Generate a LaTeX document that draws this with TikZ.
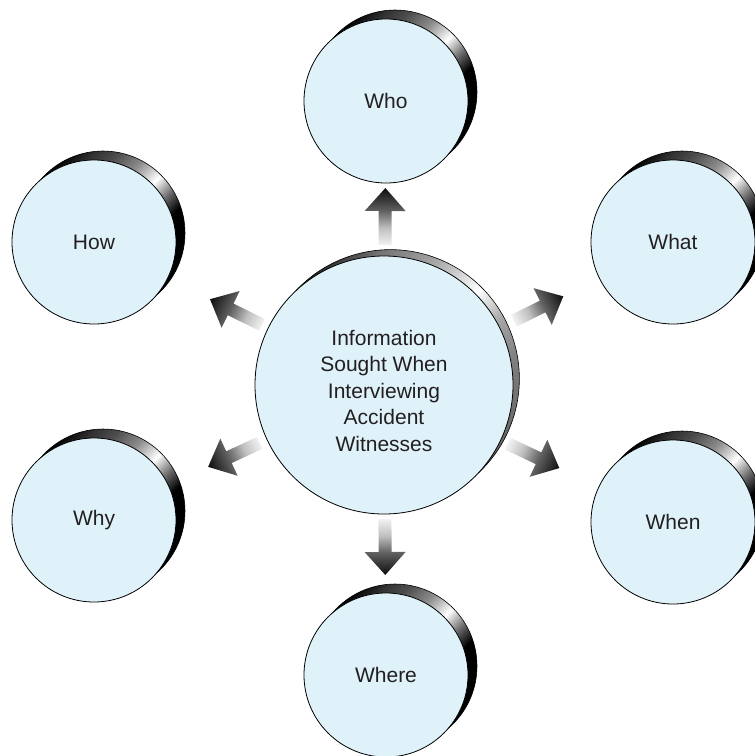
\documentclass[tikz,border=0pt]{standalone}
\usepackage{fontspec}
\setmainfont{Liberation Sans}
\usetikzlibrary{calc,backgrounds}
\definecolor{bub}{RGB}{223,242,250}
\definecolor{txt}{RGB}{35,31,32}
\pgfdeclarehorizontalshading{rimdark}{100bp}{color(0bp)=(black); color(25bp)=(black); color(31bp)=(black!80); color(36bp)=(black!70); color(43bp)=(black!45); color(50bp)=(white); color(56bp)=(black!60); color(61bp)=(black); color(100bp)=(black)}
\pgfdeclarehorizontalshading{rimlight}{100bp}{color(0bp)=(black!85); color(25bp)=(black!85); color(31bp)=(black!55); color(40bp)=(black!35); color(50bp)=(white); color(57bp)=(black!35); color(64bp)=(black!50); color(75bp)=(black!60); color(100bp)=(black!60)}
\pgfdeclarehorizontalshading{arrowshade}{100bp}{color(0bp)=(black!5); color(25bp)=(black!5); color(40bp)=(black!25); color(55bp)=(black!62); color(75bp)=(black!95); color(100bp)=(black!95)}
\tikzset{
  bubble/.style={circle, draw=black, line width=0.8pt, fill=bub, inner sep=0pt,
    text=txt, font=\fontsize{21}{26.5}\selectfont, align=center},
  small/.style={bubble, minimum size=164pt},
  big/.style={bubble, minimum size=258pt},
  bigtext/.style={text=txt, font=\fontsize{21}{26.5}\selectfont, align=center, inner sep=0pt},
}
% rim behind a bubble: #1 node, #2 shading, #3 radius, #4 offset
\newcommand\rimback[4]{%
  \begin{scope}[transform canvas={shift={(#1.center)},rotate=-45}]
    \shade[shading=#2, draw=black, line width=0.6pt] (0,#4) circle (#3);
  \end{scope}}
% shaded block arrow from node #1 toward node #2, tail at #3, tip at #4
\newcommand\blockarrow[4]{%
  \pgfmathanglebetweenpoints{\pgfpointanchor{#1}{center}}{\pgfpointanchor{#2}{center}}%
  \let\arrang\pgfmathresult
  \begin{scope}[transform canvas={shift={(#1.center)},rotate=\arrang}]
    \shade[shading=arrowshade] (#3,-6.5) -- ({#4-23},-6.5) -- ({#4-23},-20.5) -- (#4,0)
      -- ({#4-23},20.5) -- ({#4-23},6.5) -- (#3,6.5) -- cycle;
  \end{scope}}
\begin{document}
\begin{tikzpicture}[x=1pt,y=1pt]
\useasboundingbox (0,0) rectangle (755,-756);

\node[big] (c) at (384,-385) {};
\node[bigtext] (ctext) at ($(c.center)+(0,-5.5)$) {Information\\Sought When\\Interviewing\\Accident\\Witnesses};
\node[small] (who) at (386,-101) {Who};
\node[small] (what) at (673,-242) {What};
\node[small] (when) at (673,-522) {When};
\node[small] (where) at (386,-675) {Where};
\node[small] (why) at (94,-520) {Why};
\node[small] (how) at (94,-242) {How};

\begin{pgfonlayer}{background}
  \rimback{c}{rimlight}{129}{9}
  \rimback{who}{rimdark}{82}{12.7}
  \rimback{what}{rimdark}{82}{12.7}
  \rimback{when}{rimdark}{82}{12.7}
  \rimback{where}{rimdark}{82}{12.7}
  \rimback{why}{rimdark}{82}{12.7}
  \rimback{how}{rimdark}{82}{12.7}
\end{pgfonlayer}

\blockarrow{c}{who}{140}{197}
\blockarrow{c}{what}{145}{200}
\blockarrow{c}{when}{137}{194}
\blockarrow{c}{where}{134}{190}
\blockarrow{c}{why}{137}{194}
\blockarrow{c}{how}{136}{194}
\end{tikzpicture}
\end{document}
